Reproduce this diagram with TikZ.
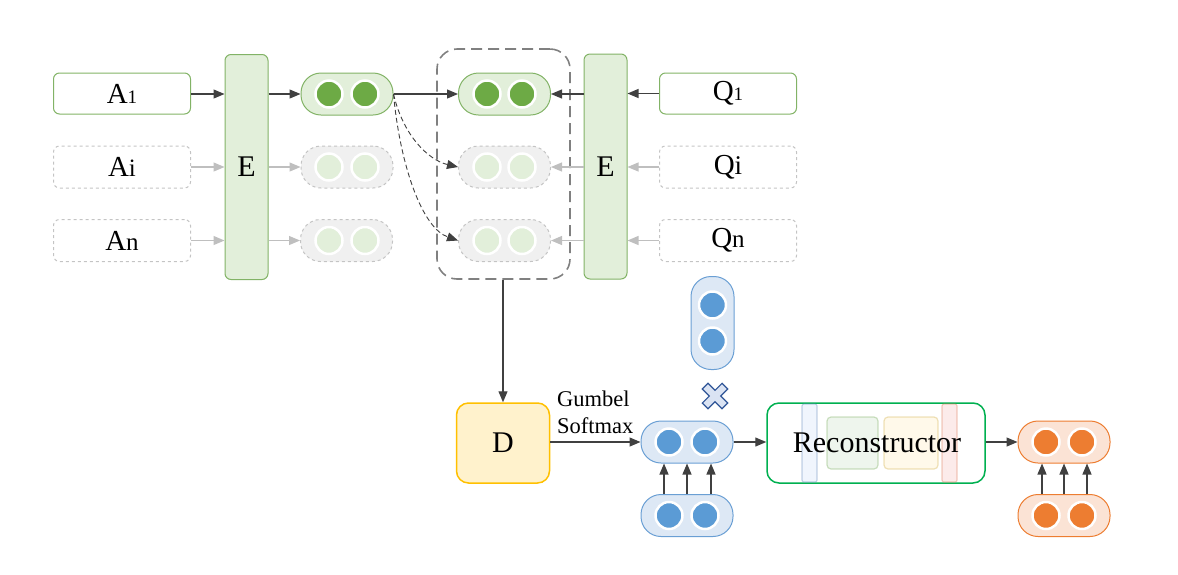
\documentclass[tikz,border=0pt]{standalone}
\usepackage{fontspec}
\setmainfont{Liberation Serif}
\usetikzlibrary{arrows.meta}
\definecolor{gborder}{HTML}{82B366}
\definecolor{gfill}{HTML}{E2EFDA}
\definecolor{gdark}{HTML}{6DAA45}
\definecolor{grayb}{HTML}{C4C4C4}
\definecolor{grayf}{HTML}{F0F0F0}
\definecolor{arr}{HTML}{404040}
\definecolor{garr}{HTML}{BFBFBF}
\definecolor{bborder}{HTML}{6A9FD4}
\definecolor{bfill}{HTML}{DDE8F5}
\definecolor{bdark}{HTML}{5B9BD5}
\definecolor{oborder}{HTML}{ED7D31}
\definecolor{ofill}{HTML}{FBE3D5}
\definecolor{odark}{HTML}{ED7D31}
\definecolor{dborder}{HTML}{FFC000}
\definecolor{dfill}{HTML}{FFF2CC}
\definecolor{rborder}{HTML}{00B050}
\definecolor{xborder}{HTML}{2F5597}
\definecolor{xfill}{HTML}{DAE3F3}
\definecolor{sbB}{HTML}{6C8EBF}
\definecolor{sbF}{HTML}{DAE8FC}
\definecolor{sgB}{HTML}{82B366}
\definecolor{sgF}{HTML}{D5E8D4}
\definecolor{syB}{HTML}{D6B656}
\definecolor{syF}{HTML}{FFF2CC}
\definecolor{srB}{HTML}{E08060}
\definecolor{srF}{HTML}{F8CECC}
\tikzset{
  big/.style={font=\fontsize{30}{34}\selectfont},
  mid/.style={font=\fontsize{29}{33}\selectfont},
  inbox/.style={draw=gborder, line width=1pt, rounded corners=6pt, minimum width=137pt, minimum height=41pt, inner sep=0pt, mid},
  inboxg/.style={draw=grayb, dashed, line width=1pt, rounded corners=6pt, minimum width=137pt, minimum height=42pt, inner sep=0pt, mid},
  encbox/.style={draw=gborder, fill=gfill, line width=1pt, rounded corners=6pt, minimum width=43pt, minimum height=225pt, inner sep=0pt, big},
  pill/.style={rounded corners=20pt, minimum width=92pt, minimum height=42pt, inner sep=0pt, line width=1pt},
  gpill/.style={pill, draw=gborder, fill=gfill},
  graypill/.style={pill, draw=grayb, dashed, fill=grayf},
  bpill/.style={pill, draw=bborder, fill=bfill},
  opill/.style={pill, draw=oborder, fill=ofill},
  dot/.style={circle, draw=white, line width=2.5pt, minimum size=27pt, inner sep=0pt},
  ar/.style={draw=arr, line width=1.2pt, -{Triangle[length=11pt,width=9pt]}},
  gar/.style={draw=garr, line width=1.2pt, -{Triangle[length=11pt,width=9pt]}},
  dar/.style={draw=arr, line width=0.9pt, dash pattern=on 5pt off 3pt, -{Triangle[length=11pt,width=9pt]}},
  ghost/.style={line width=1.2pt, rounded corners=4pt, opacity=0.4},
}
\begin{document}
\begin{tikzpicture}[x=1pt,y=-1pt]
\useasboundingbox (0,0) rectangle (1178,574);

% ---------- left inputs ----------
\node[inbox]  (a1) at (122,93.5) {A{\fontsize{19}{20}\selectfont 1}};
\node[inboxg] (ai) at (122,167) {A{\fontsize{25}{26}\selectfont i}};
\node[inboxg] (an) at (122,240.5) {A{\fontsize{25}{26}\selectfont n}};
\node[encbox] (e1) at (246.5,167) {E};

% ---------- left embeddings ----------
\node[gpill] (p1) at (347,94) {};
\node[graypill] (pi) at (347,167) {};
\node[graypill] (pn) at (346.5,240.5) {};
\node[dot, fill=gdark] (p1a) at (329,94) {};
\node[dot, fill=gdark] (p1b) at (365,94) {};
\foreach \y in {167,240.5}{
  \node[dot, fill=gfill] at (329,\y) {};
  \node[dot, fill=gfill] at (365,\y) {};
}

% ---------- dashed group ----------
\node[draw=gray, line width=1.6pt, dash pattern=on 11pt off 6pt, rounded corners=20pt, minimum width=133pt, minimum height=230pt, inner sep=0pt] (grp) at (503.5,164) {};

% ---------- right embeddings ----------
\node[gpill] (r1) at (504.5,94) {};
\node[graypill] (ri) at (504.5,167) {};
\node[graypill] (rn) at (504.5,240.5) {};
\node[dot, fill=gdark] (r1a) at (487,94) {};
\node[dot, fill=gdark] (r1b) at (522,94) {};
\foreach \y in {167,240.5}{
  \node[dot, fill=gfill] at (487,\y) {};
  \node[dot, fill=gfill] at (522,\y) {};
}

% ---------- right encoder and questions ----------
\node[encbox] (e2) at (605.5,166.5) {E};
\node[inbox]  (q1) at (728,93.5) {Q{\fontsize{19}{20}\selectfont 1}};
\node[inboxg] (qi) at (728,167) {Q{\fontsize{27}{28}\selectfont i}};
\node[inboxg] (qn) at (728,240.5) {Q{\fontsize{25}{26}\selectfont n}};

% ---------- top arrows ----------
\draw[ar]  (a1.east |- p1.west) -- (e1.west |- p1.west);
\draw[gar] (ai.east) -- (e1.west |- ai.east);
\draw[gar] (an.east) -- (e1.west |- an.east);
\draw[ar]  (e1.east |- p1.west) -- (p1.west);
\draw[gar] (e1.east |- pi.west) -- (pi.west);
\draw[gar] (e1.east |- pn.west) -- (pn.west);
\draw[ar]  (p1.east) -- (r1.west);
\draw[dar] (p1.east) .. controls (403,135) and (428,160) .. (ri.west);
\draw[dar] (p1.east) .. controls (400,165) and (422,228) .. (rn.west);
\draw[ar]  (e2.west |- r1.east) -- (r1.east);
\draw[gar] (e2.west |- ri.east) -- (ri.east);
\draw[gar] (e2.west |- rn.east) -- (rn.east);
\draw[ar]  (q1.west) -- (e2.east |- q1.west);
\draw[gar] (qi.west) -- (e2.east |- qi.west);
\draw[gar] (qn.west) -- (e2.east |- qn.west);

% ---------- D ----------
\node[draw=dborder, fill=dfill, line width=1.5pt, rounded corners=12pt, minimum width=93pt, minimum height=80pt, inner sep=0pt, big] (d) at (503,443) {D};
\draw[ar] (d.north |- grp.south) -- (d.north);

% ---------- blue ----------
\node[bpill] (bm) at (687,442) {};
\node[dot, fill=bdark] at (669,442) {};
\node[dot, fill=bdark] at (705,442) {};
\node[bpill] (bb) at (687,515.5) {};
\node[dot, fill=bdark] at (669,515.5) {};
\node[dot, fill=bdark] at (705,515.5) {};
\node[bpill, minimum width=43pt, minimum height=93pt] (bv) at (712.5,323) {};
\node[dot, fill=bdark] at (712.5,305) {};
\node[dot, fill=bdark] at (712.5,341) {};
\draw[draw=xborder, fill=xfill, line width=1.2pt, rotate around={45:(715,396)}]
  (711,382) -- (719,382) -- (719,392) -- (729,392) -- (729,400) -- (719,400) -- (719,410) -- (711,410) -- (711,400) -- (701,400) -- (701,392) -- (711,392) -- cycle;

\draw[ar] (d.east |- bm.west) -- (bm.west);
\node[anchor=base west, align=left, font=\fontsize{22.5}{27}\selectfont, inner sep=0pt] (gs) at (557,433) {Gumbel\\Softmax};
\foreach \x in {664,687,711}{
  \draw[ar] (bb.north -| \x,0) -- (bm.south -| \x,0);
}

% ---------- reconstructor ----------
\node[draw=rborder, line width=1.5pt, fill=white, rounded corners=12pt, minimum width=218pt, minimum height=80pt, inner sep=0pt] (rec) at (876,443) {};
\draw[ghost, draw=sbB, fill=sbF, rounded corners=2pt] (802,404) rectangle (817,482);
\draw[ghost, draw=sgB, fill=sgF] (827,417) rectangle (878,469);
\draw[ghost, draw=syB, fill=syF] (884,417) rectangle (938,469);
\draw[ghost, draw=srB, fill=srF, rounded corners=2pt] (942,404) rectangle (957,482);
\node[big, inner sep=0pt] (rect) at (877,443) {Reconstructor};
\draw[ar] (bm.east) -- (rec.west |- bm.east);

% ---------- orange ----------
\node[opill] (om) at (1064,442) {};
\node[dot, fill=odark] at (1046,442) {};
\node[dot, fill=odark] at (1082,442) {};
\node[opill] (ob) at (1064,515.5) {};
\node[dot, fill=odark] at (1046,515.5) {};
\node[dot, fill=odark] at (1082,515.5) {};
\draw[ar] (rec.east |- om.west) -- (om.west);
\foreach \x in {1042,1064,1087}{
  \draw[ar] (ob.north -| \x,0) -- (om.south -| \x,0);
}
\end{tikzpicture}
\end{document}
